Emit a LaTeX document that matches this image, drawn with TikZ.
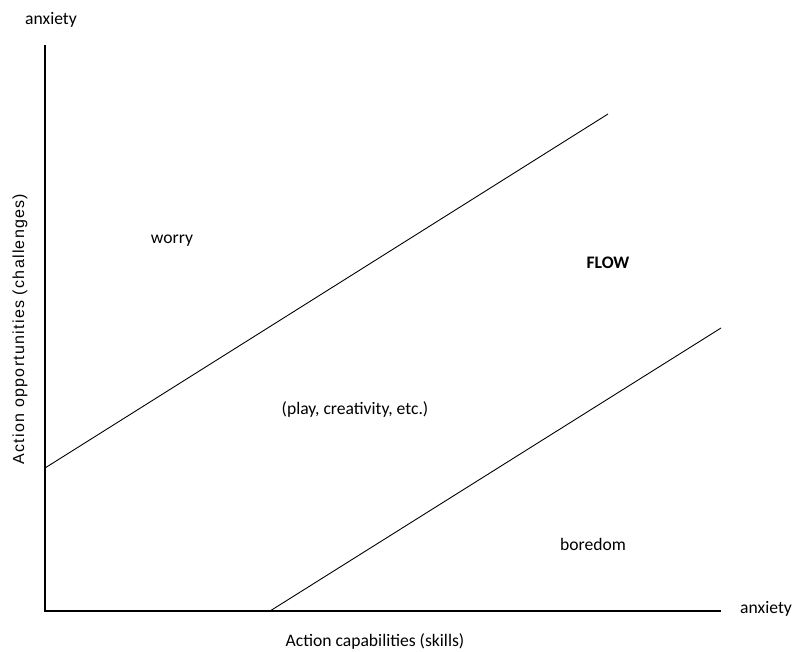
\documentclass[tikz,border=0pt]{standalone}
\usepackage{fontspec}
\setmainfont{Carlito}
\newfontfamily\arialfont[LetterSpace=8]{Liberation Sans}
\begin{document}
\begin{tikzpicture}[x=1pt,y=-1pt,
  lbl/.style={inner sep=0pt,font=\fontsize{17.6}{20}\selectfont},
  axis/.style={line width=2pt},
  diag/.style={line width=0.9pt}]
\useasboundingbox (0,0) rectangle (792,651);
\coordinate (o) at (45,611);
\coordinate (ytop) at (45,45);
\coordinate (xend) at (721,611);
\coordinate (a1) at (45,468);
\coordinate (b1) at (608,114);
\coordinate (a2) at (270,611);
\coordinate (b2) at (721,328);
\draw[axis] (ytop) -- (o) -- (xend);
\draw[diag] (a1) -- (b1);
\draw[diag] (a2) -- (b2);
\node[lbl] (ya) at (51,20) {anxiety};
\node[lbl] (xa) at (766,609) {anxiety};
\node[lbl] (w) at (172,241) {worry};
\node[lbl,font=\fontsize{17.6}{20}\selectfont\bfseries] (f) at (608,263) {FLOW};
\node[lbl] (p) at (355,409) {(play, creativity, etc.)};
\node[lbl] (b) at (593,544) {boredom};
\node[lbl] (xl) at (375,641) {Action capabilities (skills)};
\node[lbl,font=\fontsize{16}{18}\selectfont\arialfont,rotate=90] (yl) at (20,329) {Action opportunities (challenges)};
\end{tikzpicture}
\end{document}
